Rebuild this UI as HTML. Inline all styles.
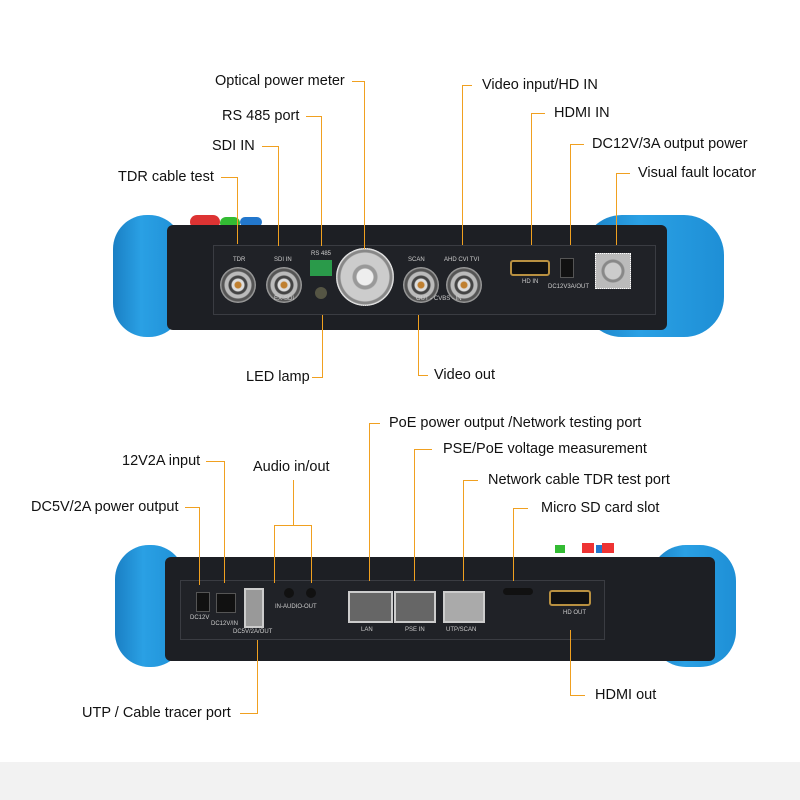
<!DOCTYPE html>
<html><head><meta charset="utf-8"><style>
body{margin:0;width:800px;height:800px;background:#fff;position:relative;overflow:hidden;font-family:"Liberation Sans",sans-serif}
div{position:absolute;box-sizing:border-box}
.t{font-size:14.5px;color:#111;white-space:nowrap;line-height:16px}
.h{height:1px;background:#f0a020}
.v{width:1px;background:#f0a020}
.bump{background:linear-gradient(90deg,#1a7fc4,#2aa0e4 40%,#1e8fd6);border-radius:34px}
.body{background:#1d1f24;border-radius:6px}
.panel{background:#202227;border:1px solid #3a3c42}
.bnc{border-radius:50%;background:radial-gradient(circle,#c08030 0 3px,#ddd 4px 6px,#444 7px 9px,#bbb 10px 13px,#555 14px 16px,#999 17px)}
.lbl{font-size:6px;color:#ccc;white-space:nowrap}
.rj{background:#aaa;border:2px solid #ccc}
</style></head><body>
<div style="left:0;top:762px;width:800px;height:38px;background:#f2f2f2"></div>

<!-- TOP DEVICE -->
<div class="bump" style="left:113px;top:215px;width:70px;height:122px"></div>
<div class="bump" style="left:582px;top:215px;width:142px;height:122px;border-radius:40px"></div>
<div style="left:190px;top:215px;width:30px;height:14px;background:#d33;border-radius:7px"></div>
<div style="left:220px;top:217px;width:20px;height:12px;background:#3b3;border-radius:6px"></div>
<div style="left:240px;top:217px;width:22px;height:10px;background:#27c;border-radius:5px"></div>
<div class="body" style="left:167px;top:225px;width:500px;height:105px"></div>
<div class="panel" style="left:213px;top:245px;width:443px;height:70px"></div>
<div class="bnc" style="left:220px;top:267px;width:36px;height:36px"></div>
<div class="bnc" style="left:266px;top:267px;width:36px;height:36px"></div>
<div class="bnc" style="left:403px;top:267px;width:36px;height:36px"></div>
<div class="bnc" style="left:446px;top:267px;width:36px;height:36px"></div>
<div style="left:336px;top:248px;width:58px;height:58px;border-radius:50%;background:radial-gradient(circle,#eee 0 8px,#999 9px 12px,#ccc 13px 24px,#888 25px 27px,#ddd 28px);border:1px dotted #eee"></div>
<div style="left:310px;top:260px;width:22px;height:16px;background:#2a9a4a"></div>
<div style="left:315px;top:287px;width:12px;height:12px;border-radius:50%;background:#554"></div>
<div style="left:510px;top:260px;width:40px;height:16px;border-radius:3px;background:#111;border:2px solid #b89040"></div>
<div style="left:560px;top:258px;width:14px;height:20px;background:#111;border:1px solid #555"></div>
<div style="left:595px;top:253px;width:36px;height:36px;background:radial-gradient(circle,#ccc 0 8px,#888 9px 11px,#bbb 12px);border:1px dotted #fff"></div>
<div class="lbl" style="left:233px;top:257px">TDR</div>
<div class="lbl" style="left:274px;top:257px">SDI IN</div>
<div class="lbl" style="left:274px;top:296px">EX-SDI</div>
<div class="lbl" style="left:311px;top:251px">RS 485</div>
<div class="lbl" style="left:408px;top:257px">SCAN</div>
<div class="lbl" style="left:444px;top:257px">AHD CVI TVI</div>
<div class="lbl" style="left:416px;top:296px">OUT - CVBS - IN</div>
<div class="lbl" style="left:522px;top:279px">HD IN</div>
<div class="lbl" style="left:548px;top:284px">DC12V3A/OUT</div>

<!-- top callouts -->
<div class="t" style="left:215px;top:73px">Optical power meter</div>
<div class="h" style="left:352px;top:81px;width:13px"></div><div class="v" style="left:364px;top:81px;height:168px"></div>
<div class="t" style="left:222px;top:108px">RS 485 port</div>
<div class="h" style="left:306px;top:116px;width:16px"></div><div class="v" style="left:321px;top:116px;height:130px"></div>
<div class="t" style="left:212px;top:138px">SDI IN</div>
<div class="h" style="left:262px;top:146px;width:17px"></div><div class="v" style="left:278px;top:146px;height:100px"></div>
<div class="t" style="left:118px;top:169px">TDR cable test</div>
<div class="h" style="left:221px;top:177px;width:17px"></div><div class="v" style="left:237px;top:177px;height:67px"></div>
<div class="t" style="left:482px;top:77px">Video input/HD IN</div>
<div class="h" style="left:462px;top:85px;width:10px"></div><div class="v" style="left:462px;top:85px;height:160px"></div>
<div class="t" style="left:554px;top:105px">HDMI IN</div>
<div class="h" style="left:531px;top:113px;width:14px"></div><div class="v" style="left:531px;top:113px;height:132px"></div>
<div class="t" style="left:592px;top:136px">DC12V/3A output power</div>
<div class="h" style="left:570px;top:144px;width:14px"></div><div class="v" style="left:570px;top:144px;height:101px"></div>
<div class="t" style="left:638px;top:165px">Visual fault locator</div>
<div class="h" style="left:616px;top:173px;width:14px"></div><div class="v" style="left:616px;top:173px;height:72px"></div>
<div class="t" style="left:246px;top:369px">LED lamp</div>
<div class="h" style="left:312px;top:377px;width:11px"></div><div class="v" style="left:322px;top:315px;height:63px"></div>
<div class="t" style="left:434px;top:367px">Video out</div>
<div class="h" style="left:418px;top:375px;width:10px"></div><div class="v" style="left:418px;top:315px;height:61px"></div>

<!-- BOTTOM DEVICE -->
<div class="bump" style="left:115px;top:545px;width:70px;height:122px"></div>
<div class="bump" style="left:650px;top:545px;width:86px;height:122px;border-radius:36px"></div>
<div style="left:555px;top:545px;width:10px;height:8px;background:#3b3"></div>
<div style="left:582px;top:543px;width:12px;height:10px;background:#e33"></div>
<div style="left:602px;top:543px;width:12px;height:10px;background:#e33"></div>
<div style="left:596px;top:545px;width:6px;height:8px;background:#27c"></div>
<div class="body" style="left:165px;top:557px;width:550px;height:104px"></div>
<div class="panel" style="left:180px;top:580px;width:425px;height:60px"></div>
<div style="left:196px;top:592px;width:14px;height:20px;background:#111;border:1px solid #555"></div>
<div style="left:216px;top:593px;width:20px;height:20px;background:#111;border:1px solid #555"></div>
<div style="left:244px;top:588px;width:20px;height:40px;background:#999;border:2px solid #ccc"></div>
<div style="left:284px;top:588px;width:10px;height:10px;border-radius:50%;background:#111"></div>
<div style="left:306px;top:588px;width:10px;height:10px;border-radius:50%;background:#111"></div>
<div class="rj" style="left:348px;top:591px;width:45px;height:32px;background:#666"></div>
<div class="rj" style="left:394px;top:591px;width:42px;height:32px;background:#666"></div>
<div class="rj" style="left:443px;top:591px;width:42px;height:32px"></div>
<div style="left:503px;top:588px;width:30px;height:7px;border-radius:4px;background:#111"></div>
<div style="left:549px;top:590px;width:42px;height:16px;border-radius:3px;background:#111;border:2px solid #b89040"></div>
<div class="lbl" style="left:190px;top:615px">DC12V</div>
<div class="lbl" style="left:211px;top:621px">DC12V/IN</div>
<div class="lbl" style="left:233px;top:629px">DC5V/2A/OUT</div>
<div class="lbl" style="left:275px;top:604px">IN-AUDIO-OUT</div>
<div class="lbl" style="left:361px;top:627px">LAN</div>
<div class="lbl" style="left:405px;top:627px">PSE IN</div>
<div class="lbl" style="left:446px;top:627px">UTP/SCAN</div>
<div class="lbl" style="left:563px;top:610px">HD OUT</div>

<!-- bottom callouts -->
<div class="t" style="left:389px;top:415px">PoE power output /Network testing port</div>
<div class="h" style="left:369px;top:423px;width:11px"></div><div class="v" style="left:369px;top:423px;height:158px"></div>
<div class="t" style="left:443px;top:441px">PSE/PoE voltage measurement</div>
<div class="h" style="left:414px;top:449px;width:18px"></div><div class="v" style="left:414px;top:449px;height:132px"></div>
<div class="t" style="left:488px;top:472px">Network cable TDR test port</div>
<div class="h" style="left:463px;top:480px;width:15px"></div><div class="v" style="left:463px;top:480px;height:101px"></div>
<div class="t" style="left:541px;top:500px">Micro SD card slot</div>
<div class="h" style="left:513px;top:508px;width:15px"></div><div class="v" style="left:513px;top:508px;height:73px"></div>
<div class="t" style="left:122px;top:453px">12V2A input</div>
<div class="h" style="left:206px;top:461px;width:19px"></div><div class="v" style="left:224px;top:461px;height:122px"></div>
<div class="t" style="left:31px;top:499px">DC5V/2A power output</div>
<div class="h" style="left:185px;top:507px;width:15px"></div><div class="v" style="left:199px;top:507px;height:78px"></div>
<div class="t" style="left:253px;top:459px">Audio in/out</div>
<div class="v" style="left:293px;top:480px;height:45px"></div>
<div class="h" style="left:274px;top:525px;width:38px"></div>
<div class="v" style="left:274px;top:525px;height:58px"></div><div class="v" style="left:311px;top:525px;height:58px"></div>
<div class="t" style="left:82px;top:705px">UTP / Cable tracer port</div>
<div class="h" style="left:240px;top:713px;width:18px"></div><div class="v" style="left:257px;top:640px;height:74px"></div>
<div class="t" style="left:595px;top:687px">HDMI out</div>
<div class="h" style="left:570px;top:695px;width:15px"></div><div class="v" style="left:570px;top:630px;height:66px"></div>
</body></html>
